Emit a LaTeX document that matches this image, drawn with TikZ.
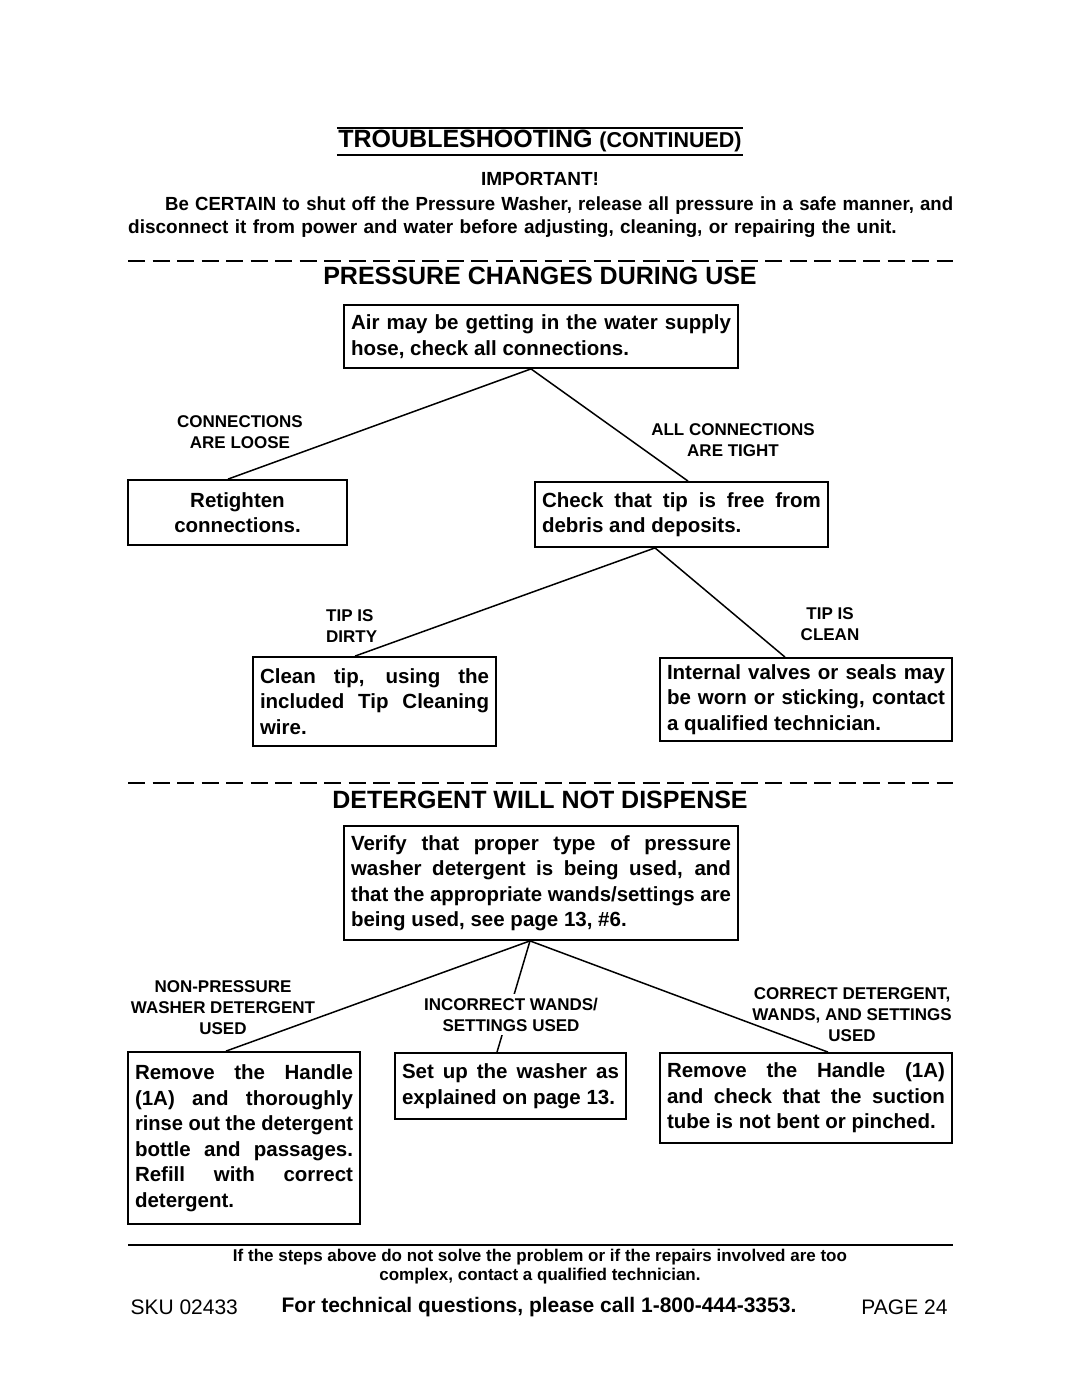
\documentclass[tikz,border=0pt]{standalone}
\usepackage{fontspec}
\setmainfont{Liberation Sans}
\usepackage{graphicx}
\usetikzlibrary{positioning}

% one justified line of width \bw: spaces stretch, or the line is squeezed
\newlength{\bw}
\newlength{\natw}
\newcommand{\fl}[1]{\settowidth{\natw}{\spaceskip=0pt\xspaceskip=0pt #1}%
	\ifdim\natw>\bw\relax\resizebox{\bw}{\height}{\spaceskip=0pt\xspaceskip=0pt #1}%
	\else\makebox[\bw][s]{\spaceskip=0pt\xspaceskip=0pt #1}\fi}

\tikzset{
	box/.style={draw, line width=1.8pt, inner xsep=7pt, inner ysep=0pt, align=left, text width=#1, execute at begin node={\setlength{\bw}{#1}\spaceskip=0pt\xspaceskip=0pt}, font=\fontsize{20.5}{25.5}\selectfont\bfseries},
	lbl/.style={align=center, inner sep=1pt, execute at begin node={\spaceskip=0pt\xspaceskip=0pt}, font=\fontsize{17}{21}\selectfont\bfseries},
	head/.style={inner sep=0pt, font=\fontsize{25}{30}\selectfont\bfseries},
	conn/.style={line width=1.5pt},
	sepline/.style={line width=2.5pt, dash pattern=on 17pt off 7.5pt},
}

\begin{document}
\begin{tikzpicture}[x=1pt, y=-1pt]
		\fill[white] (0,0) rectangle (1080,1397);
		\useasboundingbox (0,0) rectangle (1080,1397);
		% title and warning
		\node[head, minimum width=406pt, minimum height=27pt]	(title) at (540,141.5) {TROUBLESHOOTING {\fontsize{21.5}{24}\selectfont (CONTINUED)}};
		\draw[line width=2pt] (title.north west) -- (title.north east) (title.south west) -- (title.south east);
		\node[font=\fontsize{19}{23}\selectfont\bfseries]	(imp) at (540,179) {IMPORTANT!};
		\node[anchor=north west, inner sep=0pt, text width=825pt, align=left, font=\fontsize{19}{23}\selectfont\bfseries]	(warn) at (128,197)
			{\hspace*{37pt}\resizebox{788pt}{\height}{Be CERTAIN to shut off the Pressure Washer, release all pressure in a safe manner, and}\\disconnect it from power and water before adjusting, cleaning, or repairing the unit.};
		\draw[sepline] (128,261) -- (953,261);
		\draw[sepline] (128,783) -- (953,783);
		% pressure changes during use
		\node[head]	(hpress) at (540,276) {PRESSURE CHANGES DURING USE};
		\node[box=380pt, minimum height=63pt]	(air) at (541,336.5) {\fl{Air may be getting in the water supply}\\hose, check all connections.};
		\node[box=205pt, minimum height=65pt, align=center]	(ret) at (237.5,512.5) {Retighten\\connections.};
		\node[box=279pt, minimum height=65pt]	(check) at (681.5,514.5) {\fl{Check that tip is free from}\\debris and deposits.};
		\node[box=229pt, minimum height=89pt]	(clean) at (374.5,701.5) {\fl{Clean tip, using the}\\\fl{included Tip Cleaning}\\wire.};
		\node[box=278pt, minimum height=83pt]	(valve) at (806,699.5) {\fl{Internal valves or seals may}\\\fl{be worn or sticking, contact}\\a qualified technician.};
		\path[conn]
		([xshift=-10pt]air.south)		edge	([xshift=-9.5pt]ret.north)
		([xshift=-10pt]air.south)		edge	([xshift=6.5pt]check.north)
		([xshift=-26.5pt]check.south)	edge	([xshift=-19.5pt]clean.north)
		([xshift=-26.5pt]check.south)	edge	([xshift=-21pt]valve.north);
		\node[lbl]	(loose) at (240,432) {CONNECTIONS\\ARE LOOSE};
		\node[lbl]	(tight) at (733,440) {ALL CONNECTIONS\\ARE TIGHT};
		\node[lbl, anchor=west, align=left]	(dirty) at (325,626.5) {TIP IS\\DIRTY};
		\node[lbl]	(cleanlbl) at (830,624.5) {TIP IS\\CLEAN};
		% detergent will not dispense
		\node[head]	(hdet) at (540,800) {DETERGENT WILL NOT DISPENSE};
		\node[box=380pt, minimum height=114pt]	(verify) at (541,883) {\fl{Verify that proper type of pressure}\\\fl{washer detergent is being used, and}\\\fl{that the appropriate wands/settings are}\\being used, see page 13, \#6.};
		\node[box=218pt, minimum height=172pt]	(rinse) at (244,1138) {\fl{Remove the Handle}\\\fl{(1A) and thoroughly}\\\fl{rinse out the detergent}\\\fl{bottle and passages.}\\\fl{Refill with correct}\\detergent.};
		\node[box=217pt, minimum height=66pt]	(setup) at (510.5,1086) {\fl{Set up the washer as}\\explained on page 13.};
		\node[box=278pt, minimum height=90pt]	(tube) at (806,1098) {\fl{Remove the Handle (1A)}\\\fl{and check that the suction}\\tube is not bent or pinched.};
		\path[conn]
		([xshift=-11pt]verify.south)	edge	([xshift=-18pt]rinse.north)
		([xshift=-11pt]verify.south)	edge	([xshift=-13.5pt]setup.north)
		([xshift=-11pt]verify.south)	edge	([xshift=22pt]tube.north);
		\node[lbl]	(nonpr) at (223,1007.5) {NON-PRESSURE\\WASHER DETERGENT\\USED};
		\node[lbl, fill=white, inner ysep=4pt]	(wrong) at (511,1014.5) {INCORRECT WANDS/\\SETTINGS USED};
		\node[lbl]	(right) at (852,1015) {CORRECT DETERGENT,\\WANDS, AND SETTINGS\\USED};
		% footer
		\draw[line width=1.5pt] (128,1245) -- (953,1245);
		\node[align=center, font=\fontsize{17}{19}\selectfont\bfseries]	(foot) at (540,1266.5) {If the steps above do not solve the problem or if the repairs involved are too\\complex, contact a qualified technician.};
		\node[anchor=west, font=\fontsize{21}{25}\selectfont]	(sku) at (127,1307) {SKU 02433};
		\node[font=\fontsize{21}{25}\selectfont\bfseries]	(call) at (539,1307) {For technical questions, please call 1-800-444-3353.};
		\node[anchor=east, font=\fontsize{21}{25}\selectfont]	(page) at (951,1307) {PAGE 24};
\end{tikzpicture}
\end{document}
